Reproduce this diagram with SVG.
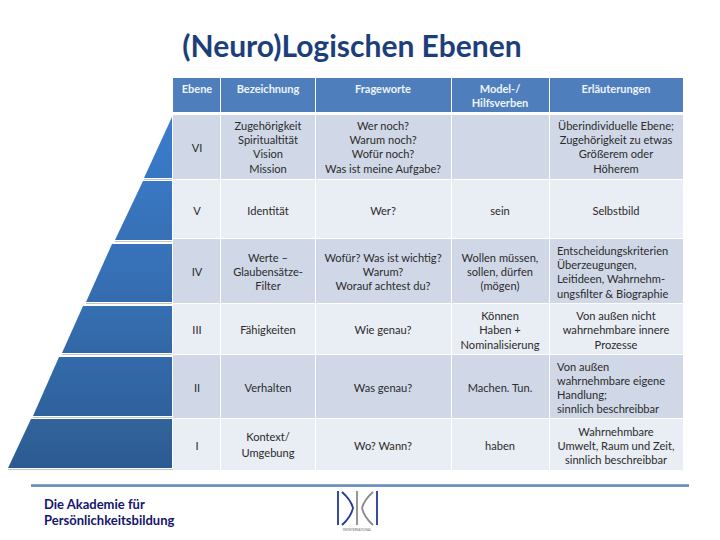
<svg xmlns="http://www.w3.org/2000/svg" width="720" height="540" viewBox="0 0 720 540">
<style>
text{font-family:Lato,"Open Sans","Liberation Sans",sans-serif;font-size:11.100px;fill:#2b2b2b;text-anchor:middle}
.h{font-weight:700;fill:#eef3fa;font-size:11px}
.l{text-anchor:start}
.f{font-weight:700;fill:#14146e;font-size:13px;text-anchor:start}
.s{stroke:#8f9299;stroke-width:1;stroke-opacity:.55}
</style>
<defs>
<linearGradient id="r" x1="0" y1="0" x2="0" y2="1"><stop offset="0" stop-color="#9db4d3"/><stop offset=".6" stop-color="#5f86b8"/><stop offset="1" stop-color="#8aa0bd"/></linearGradient>
<linearGradient id="g6" x1="0" y1="0" x2="0" y2="1"><stop offset="0" stop-color="#3a7dcc"/><stop offset="1" stop-color="#3976c2"/></linearGradient>
<linearGradient id="g5" x1="0" y1="0" x2="0" y2="1"><stop offset="0" stop-color="#3a78c4"/><stop offset="1" stop-color="#3670b6"/></linearGradient>
<linearGradient id="g4" x1="0" y1="0" x2="0" y2="1"><stop offset="0" stop-color="#3873bb"/><stop offset="1" stop-color="#346cae"/></linearGradient>
<linearGradient id="g3" x1="0" y1="0" x2="0" y2="1"><stop offset="0" stop-color="#3570b2"/><stop offset="1" stop-color="#3267a6"/></linearGradient>
<linearGradient id="g2" x1="0" y1="0" x2="0" y2="1"><stop offset="0" stop-color="#336aaa"/><stop offset="1" stop-color="#2f619d"/></linearGradient>
<linearGradient id="g1" x1="0" y1="0" x2="0" y2="1"><stop offset="0" stop-color="#316499"/><stop offset="1" stop-color="#2c5a94"/></linearGradient>
</defs>
<rect width="720" height="540" fill="#fff"/>
<text x="352" y="57" style="font-size:30px;font-weight:700;fill:#1c3f7c">(Neuro)Logischen Ebenen</text>
<g id="pyramid">
<path id="s6" d="M172 117V178H144Z" fill="url(#g6)"/>
<path id="s5" d="M172 181V240H115L143 181Z" fill="url(#g5)"/>
<path id="s4" d="M172 244V302H86L112 244Z" fill="url(#g4)"/>
<path id="s3" d="M172 306V353H62L83 306Z" fill="url(#g3)"/>
<path id="s2" d="M172 357V416H33L59 357Z" fill="url(#g2)"/>
<path id="s1" d="M172 419V468H8L31 419Z" fill="url(#g1)"/>
<path class="s" d="M144 179.500H172M115 241.500H172M86 303.500H172M62 354.500H172M33 417.500H172M8 469.500H180"/>
</g>
<g id="table">
<g fill="#4e7fbc">
<rect x="173" y="78" width="47" height="34"/><rect x="221" y="78" width="94" height="34"/><rect x="316" y="78" width="135" height="34"/><rect x="452" y="78" width="97" height="34"/><rect x="550" y="78" width="133" height="34"/>
</g>
<g fill="#d0d8e8">
<rect x="173" y="115" width="47" height="64"/><rect x="221" y="115" width="94" height="64"/><rect x="316" y="115" width="135" height="64"/><rect x="452" y="115" width="97" height="64"/><rect x="550" y="115" width="133" height="64"/>
<rect x="173" y="239" width="47" height="64"/><rect x="221" y="239" width="94" height="64"/><rect x="316" y="239" width="135" height="64"/><rect x="452" y="239" width="97" height="64"/><rect x="550" y="239" width="133" height="64"/>
<rect x="173" y="355" width="47" height="63"/><rect x="221" y="355" width="94" height="63"/><rect x="316" y="355" width="135" height="63"/><rect x="452" y="355" width="97" height="63"/><rect x="550" y="355" width="133" height="63"/>
</g>
<g fill="#e9edf4">
<rect x="173" y="180" width="47" height="58"/><rect x="221" y="180" width="94" height="58"/><rect x="316" y="180" width="135" height="58"/><rect x="452" y="180" width="97" height="58"/><rect x="550" y="180" width="133" height="58"/>
<rect x="173" y="304" width="47" height="50"/><rect x="221" y="304" width="94" height="50"/><rect x="316" y="304" width="135" height="50"/><rect x="452" y="304" width="97" height="50"/><rect x="550" y="304" width="133" height="50"/>
<rect x="173" y="419" width="47" height="51"/><rect x="221" y="419" width="94" height="51"/><rect x="316" y="419" width="135" height="51"/><rect x="452" y="419" width="97" height="51"/><rect x="550" y="419" width="133" height="51"/>
</g>
<g class="hd">
<text class="h" x="197" y="93">Ebene</text><text class="h" x="268" y="93">Bezeichnung</text><text class="h" x="383" y="93">Frageworte</text><text class="h" x="500" y="93">Model-/</text><text class="h" x="500" y="107">Hilfsverben</text><text class="h" x="616" y="93">Erläuterungen</text>
</g>
<text x="197" y="152">VI</text>
<text x="268" y="130">Zugehörigkeit</text><text x="268" y="144">Spiritualtität</text><text x="268" y="158">Vision</text><text x="268" y="173">Mission</text>
<text x="383" y="130">Wer noch?</text><text x="383" y="144">Warum noch?</text><text x="383" y="158">Wofür noch?</text><text x="383" y="173">Was ist meine Aufgabe?</text>
<text x="616" y="130">Überindividuelle Ebene;</text><text x="616" y="144">Zugehörigkeit zu etwas</text><text x="616" y="158">Größerem oder</text><text x="616" y="173">Höherem</text>
<text x="197" y="215">V</text><text x="268" y="215">Identität</text><text x="383" y="215">Wer?</text><text x="500" y="215">sein</text><text x="616" y="215">Selbstbild</text>
<text x="197" y="276">IV</text>
<text x="268" y="262">Werte –</text><text x="268" y="276">Glaubensätze-</text><text x="268" y="290">Filter</text>
<text x="383" y="262">Wofür? Was ist wichtig?</text><text x="383" y="276">Warum?</text><text x="383" y="290">Worauf achtest du?</text>
<text x="500" y="262">Wollen müssen,</text><text x="500" y="276">sollen, dürfen</text><text x="500" y="290">(mögen)</text>
<text class="l" x="557" y="255">Entscheidungskriterien</text><text class="l" x="557" y="269">Überzeugungen,</text><text class="l" x="557" y="283">Leitideen, Wahrnehm-</text><text class="l" x="557" y="298">ungsfilter &amp; Biographie</text>
<text x="197" y="334">III</text><text x="268" y="334">Fähigkeiten</text><text x="383" y="334">Wie genau?</text>
<text x="500" y="320">Können</text><text x="500" y="334">Haben +</text><text x="500" y="349">Nominalisierung</text>
<text x="616" y="320">Von außen nicht</text><text x="616" y="334">wahrnehmbare innere</text><text x="616" y="349">Prozesse</text>
<text x="197" y="392">II</text><text x="268" y="392">Verhalten</text><text x="383" y="392">Was genau?</text><text x="500" y="392">Machen. Tun.</text>
<text class="l" x="557" y="371">Von außen</text><text class="l" x="557" y="385">wahrnehmbare eigene</text><text class="l" x="557" y="399">Handlung;</text><text class="l" x="557" y="413">sinnlich beschreibbar</text>
<text x="197" y="450">I</text><text x="268" y="441">Kontext/</text><text x="268" y="457">Umgebung</text><text x="383" y="450">Wo? Wann?</text><text x="500" y="450">haben</text>
<text x="616" y="436">Wahrnehmbare</text><text x="616" y="450">Umwelt, Raum und Zeit,</text><text x="616" y="464">sinnlich beschreibbar</text>
</g>
<g id="footer">
<rect x="31" y="484" width="658" height="3" fill="url(#r)"/>
<text class="f" x="44" y="509">Die Akademie für</text>
<text class="f" x="44" y="525">Persönlichkeitsbildung</text>
<g fill="none" stroke-width="1.800">
<path d="M338 491V525M377 491V525" stroke="#23399a"/>
<path d="M342 492Q351 500 353 508Q351 517 342 525" stroke="#23399a"/>
<path d="M357 491V525" stroke="#8a8a8a"/>
<path d="M373 492Q364 500 362 508Q364 517 373 525" stroke="#8a8a8a"/>
</g>
<text x="357" y="531" style="font-size:3px;fill:#666">DKIINTERNATIONAL</text>
</g>
</svg>
